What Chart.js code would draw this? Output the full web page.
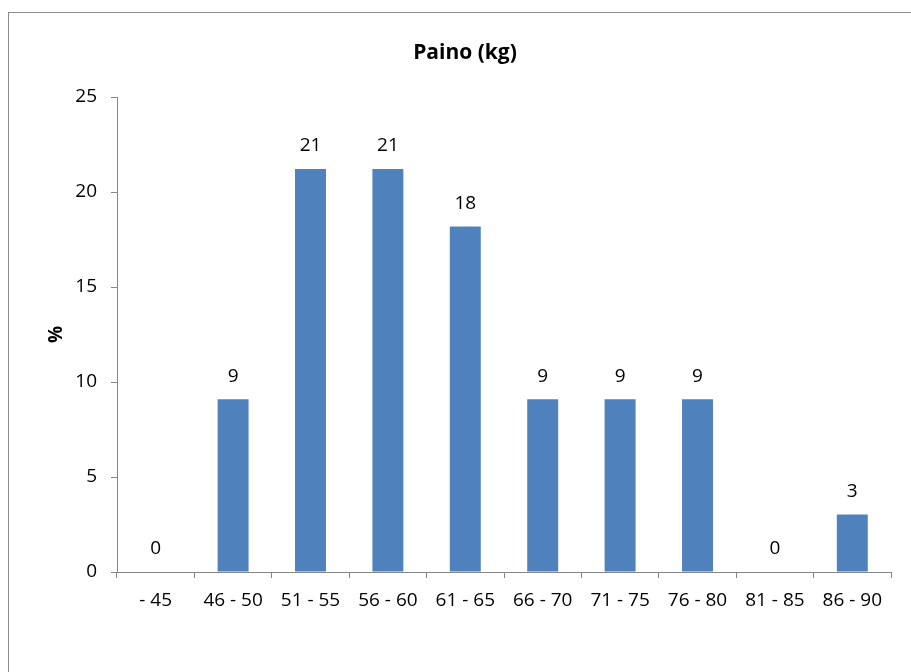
<!DOCTYPE html>
<html>
<head>
<meta charset="utf-8">
<script src="https://cdn.jsdelivr.net/npm/chart.js@4/dist/chart.umd.min.js"></script>
<style>
    body { margin: 0; background: #fff; }
    #wrap { width: 911px; height: 672px; position: relative; }
</style>
</head>
<body>
<div id="wrap"><canvas id="chart" width="911" height="672"></canvas></div>
<script>
// Chart data
const categories = ["- 45", "46 - 50", "51 - 55", "56 - 60", "61 - 65", "66 - 70", "71 - 75", "76 - 80", "81 - 85", "86 - 90"];
const percentValues = [0, 9.09, 21.21, 21.21, 18.18, 9.09, 9.09, 9.09, 0, 3.03];
const yTicks = [0, 5, 10, 15, 20, 25];
const chartTitle = "Paino (kg)";
const yAxisTitle = "%";

const fontFamily = "'Open Sans', 'Noto Sans', sans-serif";
const axisColor = "#868686";

// Draws the outer frame, the title, the y title and the value labels
const decorPlugin = {
    id: "decor",
    beforeDraw(chart) {
        const ctx = chart.ctx;
        ctx.save();
        ctx.fillStyle = "#fff";
        ctx.fillRect(0, 0, chart.width, chart.height);
        ctx.strokeStyle = "#8c8c8c";
        ctx.lineWidth = 1;
        ctx.strokeRect(8.5, 12.5, chart.width + 20, chart.height + 20);
        ctx.restore();
    },
    afterDatasetsDraw(chart) {
        const ctx = chart.ctx;
        const area = chart.chartArea;
        ctx.save();

        // title
        ctx.fillStyle = "#000";
        ctx.font = "bold 21px " + fontFamily;
        ctx.textAlign = "center";
        ctx.textBaseline = "middle";
        ctx.fillText(chartTitle, 465, 53);

        // y axis title
        ctx.save();
        ctx.translate(57, (area.top + area.bottom) / 2);
        ctx.rotate(-Math.PI / 2);
        ctx.font = "bold 19px " + fontFamily;
        ctx.fillText(yAxisTitle, 0, 0);
        ctx.restore();

        // value labels above bars
        ctx.font = "19px " + fontFamily;
        const meta = chart.getDatasetMeta(0);
        meta.data.forEach((bar, i) => {
            const label = Math.round(percentValues[i]).toString();
            ctx.fillText(label, bar.x, bar.y - 23);
        });
        ctx.restore();
    }
};

const ctx = document.getElementById("chart").getContext("2d");

const chart = new Chart(ctx, {
    type: "bar",
    data: {
        labels: categories,
        datasets: [{
            data: percentValues,
            backgroundColor: "#4F81BD",
            borderWidth: 0,
            categoryPercentage: 1,
            barPercentage: 0.4,
        }],
    },
    options: {
        responsive: false,
        animation: false,
        devicePixelRatio: 1,
        layout: {
            padding: { left: 0, right: 20, top: 97, bottom: 0 },
        },
        plugins: {
            legend: { display: false },
            title: { display: false },
            tooltip: { enabled: false },
        },
        scales: {
            x: {
                offset: true,
                grid: {
                    offset: true,
                    drawOnChartArea: false,
                    drawTicks: true,
                    tickLength: 6,
                    color: axisColor,
                },
                border: { display: true, color: axisColor, width: 1 },
                ticks: {
                    color: "#000",
                    font: { family: fontFamily, size: 19 },
                    padding: 11,
                    maxRotation: 0,
                    autoSkip: false,
                },
                afterFit(scale) { scale.height = 100; },
            },
            y: {
                min: 0,
                max: 25,
                afterBuildTicks(scale) {
                    scale.ticks = yTicks.map((v) => ({ value: v }));
                },
                grid: {
                    drawOnChartArea: false,
                    drawTicks: true,
                    tickLength: 6,
                    color: axisColor,
                },
                border: { display: true, color: axisColor, width: 1 },
                ticks: {
                    color: "#000",
                    font: { family: fontFamily, size: 19 },
                    padding: 14,
                },
                afterFit(scale) { scale.width = 117; },
            },
        },
    },
    plugins: [decorPlugin],
});
</script>
</body>
</html>
